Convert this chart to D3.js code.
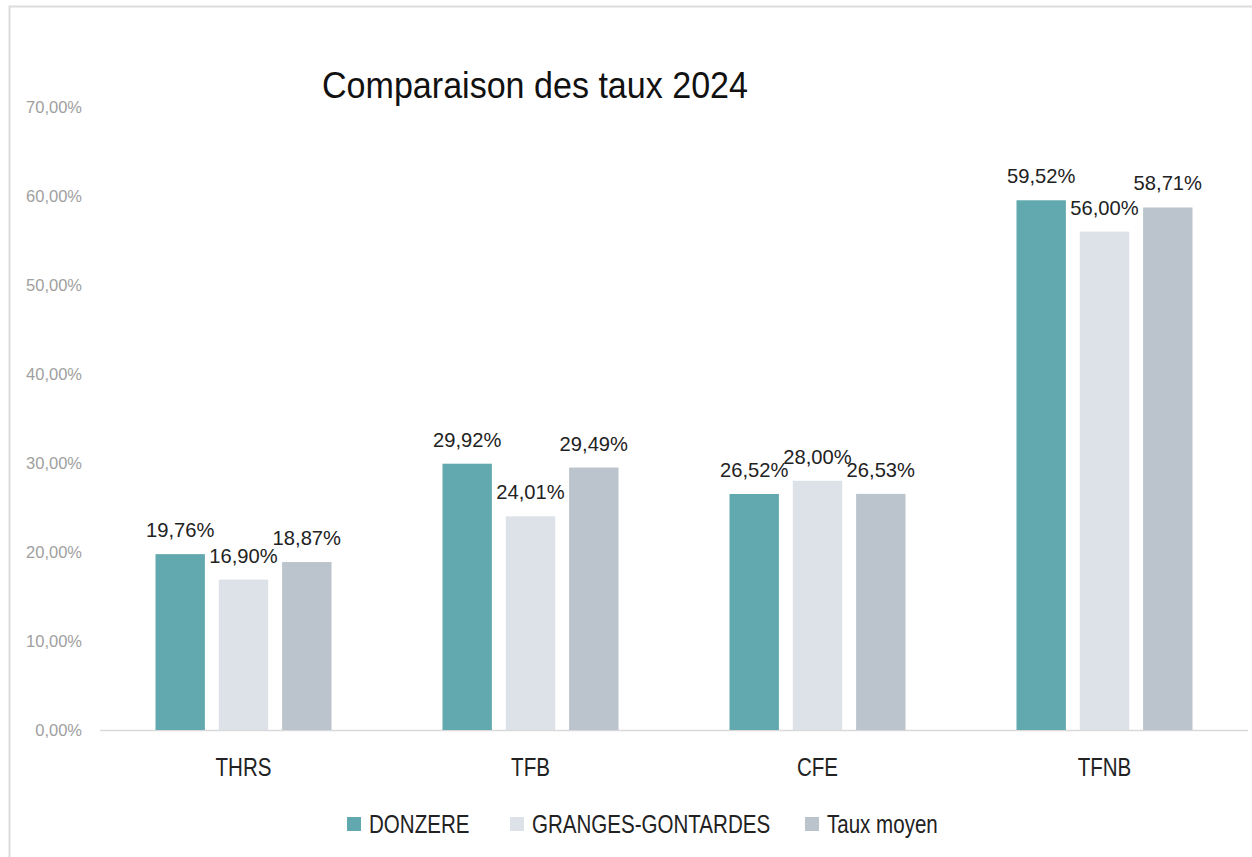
<!DOCTYPE html>
<html>
<head>
<meta charset="utf-8">
<script src="https://cdn.jsdelivr.net/npm/d3@7"></script>
<style>
  body { margin: 0; background: #fff; }
  text { font-family: "Liberation Sans", Arial, sans-serif; }
</style>
</head>
<body>
<svg id="chart"></svg>
<script>
var categories = ["THRS", "TFB", "CFE", "TFNB"];
var seriesNames = ["DONZERE", "GRANGES-GONTARDES", "Taux moyen"];
var donzere = [19.76, 29.92, 26.52, 59.52];
var granges = [16.90, 24.01, 28.00, 56.00];
var tauxMoyen = [18.87, 29.49, 26.53, 58.71];
var yTicks = [0, 10, 20, 30, 40, 50, 60, 70];
var colors = ["#61a9ae", "#dde1e8", "#bbc3cd"];

var W = 1252, H = 857;
var margin = { top: 107, right: 4, bottom: 127, left: 100 },
	width = W - margin.left - margin.right,
	height = H - margin.top - margin.bottom;

// squeeze text horizontally (the original uses a narrow font)
var narrow = function(sel, f) {
	sel.each(function() {
		var w = this.getComputedTextLength();
		d3.select(this)
			.attr('textLength', w * f)
			.attr('lengthAdjust', 'spacingAndGlyphs');
	});
};

var svg = d3.select('#chart')
	.attr('width', W)
	.attr('height', H);

// chart frame (only top and left edges are visible in the picture)
svg.append('rect')
	.attr('x', 9.5).attr('y', 6.5)
	.attr('width', W + 20).attr('height', H + 20)
	.attr('fill', 'none')
	.attr('stroke', '#dcdcdc')
	.attr('stroke-width', 2);

var g = svg.append('g')
	.attr('transform', 'translate(' + margin.left + ',' + margin.top + ')');

var values = [donzere, granges, tauxMoyen];
var data = categories.map(function(c, i) {
	return { cat: c, vals: values.map(function(s, j) { return { key: j, value: s[i] }; }) };
});

var x0 = d3.scaleBand()
	.domain(categories)
	.range([0, width]);

var x1 = d3.scaleBand()
	.domain([0, 1, 2])
	.range([0, 176])
	.paddingInner(0.22);

var y = d3.scaleLinear()
	.domain([0, 70])
	.range([height, 0]);

var fmt = function(v) { return v.toFixed(2).replace('.', ',') + '%'; };

/* y axis labels */
g.selectAll('.ytick')
	.data(yTicks)
	.enter().append('text')
	.attr('class', 'ytick')
	.attr('x', -18)
	.attr('y', function(d) { return y(d); })
	.attr('dy', '0.35em')
	.attr('text-anchor', 'end')
	.attr('fill', '#a0a0a0')
	.style('font-size', '16.5px')
	.text(function(d) { return d.toFixed(2).replace('.', ',') + '%'; });

/* baseline */
g.append('line')
	.attr('x1', 0).attr('x2', width)
	.attr('y1', y(0) + 0.5).attr('y2', y(0) + 0.5)
	.attr('stroke', '#d9d9d9')
	.attr('stroke-width', 1.5);

var groups = g.selectAll('.grp')
	.data(data)
	.enter().append('g')
	.attr('class', 'grp')
	.attr('transform', function(d) {
		return 'translate(' + (x0(d.cat) + (x0.bandwidth() - 176) / 2) + ',0)';
	});

groups.selectAll('rect')
	.data(function(d) { return d.vals; })
	.enter().append('rect')
	.attr('x', function(d) { return x1(d.key); })
	.attr('y', function(d) { return y(d.value); })
	.attr('width', x1.bandwidth())
	.attr('height', function(d) { return y(0) - y(d.value); })
	.attr('fill', function(d) { return colors[d.key]; });

groups.selectAll('.lbl')
	.data(function(d) { return d.vals; })
	.enter().append('text')
	.attr('class', 'lbl')
	.attr('x', function(d) { return x1(d.key) + x1.bandwidth() / 2; })
	.attr('y', function(d) { return y(d.value) - 17; })
	.attr('text-anchor', 'middle')
	.attr('fill', '#222')
	.style('font-size', '21px')
	.text(function(d) { return fmt(d.value); })
	.call(narrow, 0.96);

/* category labels */
g.selectAll('.cat')
	.data(categories)
	.enter().append('text')
	.attr('class', 'cat')
	.attr('x', function(d) { return x0(d) + x0.bandwidth() / 2; })
	.attr('y', height + 46)
	.attr('text-anchor', 'middle')
	.attr('fill', '#222')
	.style('font-size', '26px')
	.text(function(d) { return d; })
	.call(narrow, 0.79);

/* title */
svg.append('text')
	.attr('x', 322)
	.attr('y', 98)
	.attr('fill', '#111')
	.style('font-size', '36px')
	.text('Comparaison des taux 2024')
	.attr('textLength', 426)
	.attr('lengthAdjust', 'spacingAndGlyphs');

/* legend */
var legendX = [347, 510, 805];
var legend = svg.selectAll('.leg')
	.data(seriesNames)
	.enter().append('g')
	.attr('class', 'leg')
	.attr('transform', function(d, i) { return 'translate(' + legendX[i] + ',817)'; });

legend.append('rect')
	.attr('width', 14).attr('height', 14)
	.attr('fill', function(d, i) { return colors[i]; });

legend.append('text')
	.attr('x', 22)
	.attr('y', 15.5)
	.attr('fill', '#222')
	.style('font-size', '26px')
	.text(function(d) { return d; })
	.call(narrow, 0.79);
</script>
</body>
</html>
